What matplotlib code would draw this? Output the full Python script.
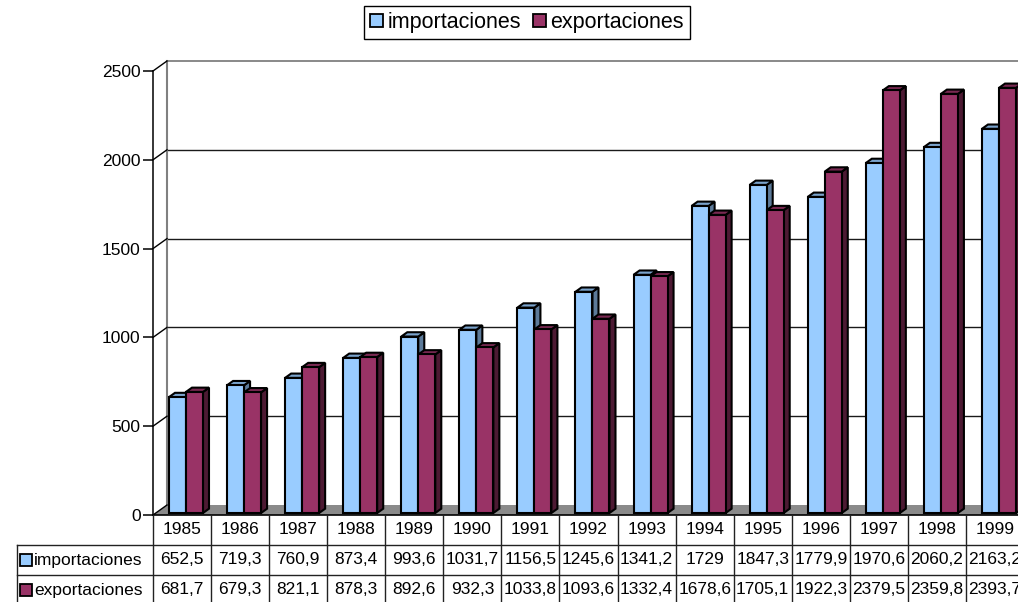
import matplotlib
matplotlib.use("Agg")
import matplotlib.pyplot as plt
from matplotlib.patches import Polygon, Rectangle, Patch

plt.rcParams['font.family'] = ['Liberation Sans', 'DejaVu Sans']

# data
years = ['1985', '1986', '1987', '1988', '1989', '1990', '1991', '1992',
         '1993', '1994', '1995', '1996', '1997', '1998', '1999']
importaciones = [652.5, 719.3, 760.9, 873.4, 993.6, 1031.7, 1156.5, 1245.6,
                 1341.2, 1729, 1847.3, 1779.9, 1970.6, 2060.2, 2163.2]
exportaciones = [681.7, 679.3, 821.1, 878.3, 892.6, 932.3, 1033.8, 1093.6,
                 1332.4, 1678.6, 1705.1, 1922.3, 2379.5, 2359.8, 2393.7]
series_names = ['importaciones', 'exportaciones']
y_ticks = [0, 500, 1000, 1500, 2000, 2500]

face = ['#99CCFF', '#993366']
top = ['#7aa3cc', '#7a2952']
side = ['#5c7a99', '#4d1a33']

W, H = 1018, 602
fig = plt.figure(figsize=(W / 100, H / 100), dpi=100)

# pixel geometry of the front plane
x0_px, y0_px = 153, 515
cat_px = 58.07          # px per category
val_px = 0.1776         # px per unit
DX, DY = 14 / cat_px, 10 / val_px   # full floor depth
n = len(years)
fs = 12.5

ax = fig.add_axes([0, (H - 520) / H, 1, 520 / H])
ax.set_xlim(-x0_px / cat_px, (W - x0_px) / cat_px)
ax.set_ylim(-5 / val_px, y0_px / val_px)
for s in ['top', 'right', 'bottom']:
    ax.spines[s].set_visible(False)
ax.spines['left'].set_position(('data', 0))
ax.spines['left'].set_bounds(0, 2500)
ax.spines['left'].set_linewidth(1.1)
ax.set_xticks([])
ax.set_yticks(y_ticks)
ax.tick_params(axis='y', direction='out', length=7, width=1.1, pad=2, labelsize=fs)
ax.patch.set_alpha(0)

# floor
ax.add_patch(Polygon([(0, 0), (n, 0), (n + DX, DY), (DX, DY)],
                     closed=True, facecolor='#8a8a8a', edgecolor='none', zorder=1))
ax.plot([0, n], [0, 0], color='black', lw=1.2, zorder=2, clip_on=False)

# walls and gridlines
for v in y_ticks:
    ax.plot([0, DX], [v, v + DY], color='black', lw=1, zorder=2)
    if v > 0:
        c = '#808080' if v == 2500 else '#1a1a1a'
        ax.plot([DX, n + DX], [v + DY, v + DY], color=c, lw=1.3 if v == 2500 else 1.0, zorder=1)
ax.plot([DX, DX], [DY, 2500 + DY], color='#808080', lw=1.5, zorder=1)

# 3d bars
f0, f1 = 0.2, 0.63
bw = 17 / cat_px
off = 0.227
bdx, bdy = (f1 - f0) * DX, (f1 - f0) * DY
for i in range(n):
    for s, vals in enumerate([importaciones, exportaciones]):
        v = vals[i]
        xl = i + off + s * bw + f0 * DX
        yb = f0 * DY
        z = 3 + i * 0.01 + s * 0.005
        ax.add_patch(Polygon([(xl + bw, yb), (xl + bw + bdx, yb + bdy),
                              (xl + bw + bdx, yb + v + bdy), (xl + bw, yb + v)],
                             closed=True, facecolor=side[s], edgecolor='black', lw=1.5, zorder=z))
        ax.add_patch(Polygon([(xl, yb + v), (xl + bw, yb + v),
                              (xl + bw + bdx, yb + v + bdy), (xl + bdx, yb + v + bdy)],
                             closed=True, facecolor=top[s], edgecolor='black', lw=1.5, zorder=z))
        ax.add_patch(Rectangle((xl, yb), bw, v, facecolor=face[s],
                               edgecolor='black', lw=1.5, zorder=z))

# data table
tx = fig.add_axes([0, 0, 1, 87 / H])
tx.set_xlim(ax.get_xlim())
tx.set_ylim(87 / 30, 0)
tx.axis('off')
hdr = (17 - x0_px) / cat_px
lk = dict(color='#222222', lw=1, clip_on=False)
tx.plot([hdr, n], [1, 1], **lk)
tx.plot([hdr, n], [2, 2], **lk)
tx.plot([hdr, hdr], [1, 3], **lk)
for i in range(n + 1):
    tx.plot([i, i], [0, 3], **lk)


def fmt(v):
    return f"{v:g}".replace('.', ',')


for i in range(n):
    tx.text(i + 0.5, 0.5, years[i], ha='center', va='center', fontsize=fs)
    tx.text(i + 0.5, 1.5, fmt(importaciones[i]), ha='center', va='center', fontsize=fs)
    tx.text(i + 0.5, 2.5, fmt(exportaciones[i]), ha='center', va='center', fontsize=fs)
for s, name in enumerate(series_names):
    tx.add_patch(Rectangle(((20 - x0_px) / cat_px, s + 1.5 - 0.19), 12 / cat_px, 0.38,
                           facecolor=face[s], edgecolor='black', lw=1.3))
    tx.text((34 - x0_px) / cat_px, s + 1.5, name, ha='left', va='center', fontsize=fs)

# legend
handles = [Patch(facecolor=face[s], edgecolor='black', lw=1.3) for s in range(2)]
leg = fig.legend(handles, series_names, loc='center', ncol=2,
                 bbox_to_anchor=(527 / W, 1 - 22.5 / H), fontsize=15.5,
                 handlelength=0.6, handleheight=0.6, handletextpad=0.2,
                 columnspacing=0.55, borderpad=0.28, borderaxespad=0,
                 fancybox=False, framealpha=1)
leg.get_frame().set_edgecolor('black')
leg.get_frame().set_linewidth(1)

fig.savefig('out.png', dpi=100)
